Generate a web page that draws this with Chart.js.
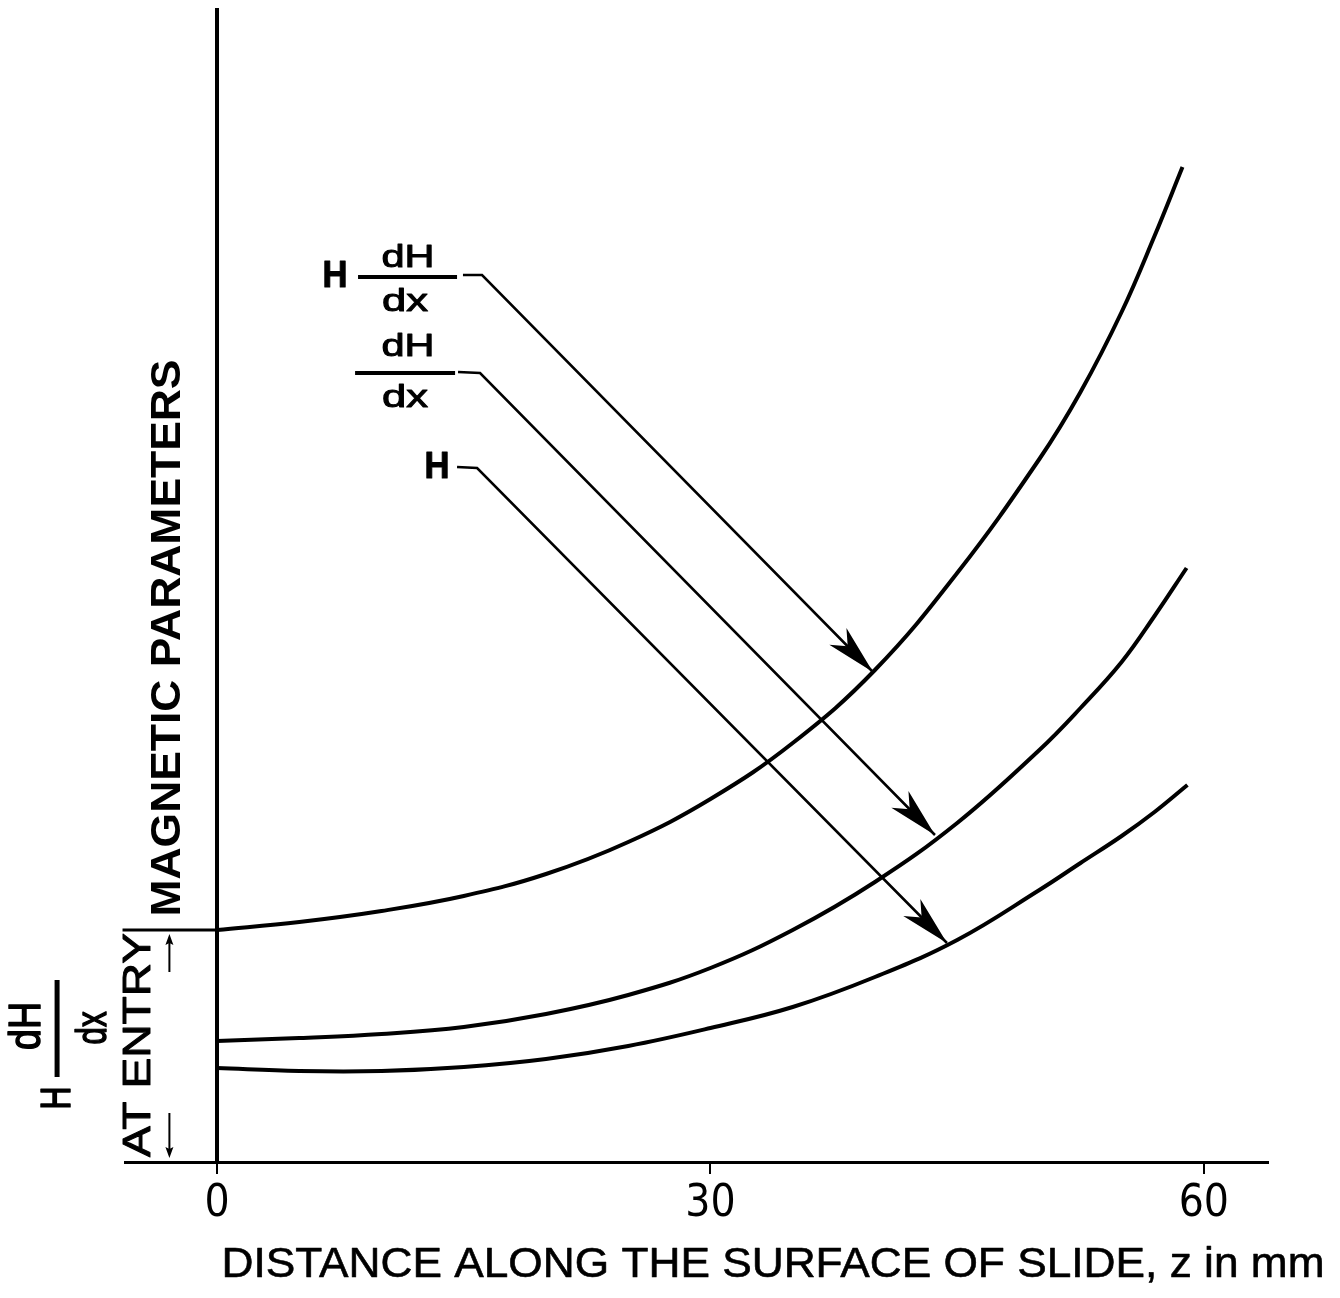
<!DOCTYPE html>
<html>
<head>
<meta charset="utf-8">
<script src="https://cdn.jsdelivr.net/npm/chart.js@4.4.1/dist/chart.umd.min.js"></script>
<style>
  html, body { margin: 0; padding: 0; background: #fff; }
  canvas { display: block; }
</style>
</head>
<body>
<canvas id="chart" width="1340" height="1298"></canvas>
<script>
const distance = [0, 5, 10, 15, 20, 25, 30, 35, 40, 45, 50, 52.5, 55, 57];

// magnetic parameters, arbitrary units (no y scale on the original)
const hDhDx = [23.2, 24.0, 25.1, 26.6, 28.8, 32.0, 36.3, 41.9, 49.2, 58.9, 70.3, 77.0, 85.0, 92.6];
const dhDx = [12.1, 12.4, 12.8, 13.5, 14.8, 16.7, 19.4, 23.2, 28.0, 33.9, 41.2, 45.4, 50.0, 54.6];
const fieldH = [9.4, 9.1, 9.1, 9.5, 10.3, 11.6, 13.4, 15.5, 18.5, 22.2, 27.2, 29.9, 32.6, 35.0];

// last point of each curve: H dH/dx, dH/dx, H
const endDistance = [58.7, 58.95, 59.0];
const endValue = [99.5, 59.4, 37.7];

const seriesNames = ["H dH/dx", "dH/dx", "H"];
const xTicks = [0, 30, 60];
const xTitle = "DISTANCE ALONG THE SURFACE OF SLIDE, z in mm";
const yTitle = "MAGNETIC PARAMETERS";
const entryLabel = "AT ENTRY";

const FONT = '"Liberation Sans", Arial, sans-serif';
const NARROW = '"Liberation Sans Narrow", "DejaVu Sans Condensed", "Liberation Sans", sans-serif';

function points(values, i) {
  const pts = distance.map((d, k) => ({ x: d, y: values[k] }));
  pts.push({ x: endDistance[i], y: endValue[i] });
  return pts;
}

// label/leader layout, in data units so it follows the scales
const notes = {
  texts: [
    { text: "H", x: 7.17, y: 88.5, w: 25, size: 36, weight: "bold" },
    { text: "dH", x: 11.61, y: 90.4, w: 53, size: 32 },
    { text: "dx", x: 11.43, y: 86.0, w: 46, size: 32 },
    { text: "dH", x: 11.61, y: 81.5, w: 53, size: 32 },
    { text: "dx", x: 11.43, y: 76.4, w: 46, size: 32 },
    { text: "H", x: 13.37, y: 69.4, w: 25, size: 36, weight: "bold" },
  ],
  bars: [
    { x1: 8.57, x2: 14.59, y: 88.5 },
    { x1: 8.39, x2: 14.47, y: 78.9 },
  ],
  leaders: [
    { from: [14.95, 88.7], corner: [16.11, 88.7], tip: [39.88, 49.0] },
    { from: [14.65, 79.0], corner: [15.99, 78.9], tip: [43.65, 32.7] },
    { from: [14.59, 69.5], corner: [15.81, 69.4], tip: [44.38, 21.9] },
  ],
};

// draws text centred on (cx, cy), squeezed/stretched to a given width;
// heavy > 0 adds an outline so thin glyphs look like the scanned print
function fitText(ctx, text, cx, cy, width, size, weight, angle, heavy) {
  ctx.save();
  ctx.translate(cx, cy);
  ctx.rotate(angle || 0);
  ctx.font = `${weight || "normal"} ${size}px ${FONT}`;
  const w = ctx.measureText(text).width;
  ctx.scale(width / w, 1);
  ctx.textAlign = "center";
  ctx.textBaseline = "middle";
  ctx.fillStyle = "#000";
  ctx.fillText(text, 0, 0);
  if (heavy) {
    ctx.strokeStyle = "#000";
    ctx.lineWidth = heavy;
    ctx.lineJoin = "round";
    ctx.strokeText(text, 0, 0);
  }
  ctx.restore();
}

function line(ctx, x1, y1, x2, y2, width) {
  ctx.beginPath();
  ctx.lineWidth = width;
  ctx.moveTo(x1, y1);
  ctx.lineTo(x2, y2);
  ctx.stroke();
}

function barbedHead(ctx, fx, fy, tx, ty, len, half, notch) {
  const d = Math.hypot(tx - fx, ty - fy);
  const ux = (tx - fx) / d;
  const uy = (ty - fy) / d;
  const bx = tx - ux * len;
  const by = ty - uy * len;
  ctx.beginPath();
  ctx.moveTo(tx, ty);
  ctx.lineTo(bx - uy * half, by + ux * half);
  ctx.lineTo(tx - ux * notch, ty - uy * notch);
  ctx.lineTo(bx + uy * half, by - ux * half);
  ctx.closePath();
  ctx.fill();
}

const whiteBackground = {
  id: "whiteBackground",
  beforeDraw(chart) {
    const { ctx, width, height } = chart;
    ctx.save();
    ctx.fillStyle = "#fff";
    ctx.fillRect(0, 0, width, height);
    ctx.restore();
  },
};

const figureNotes = {
  id: "figureNotes",
  afterDraw(chart) {
    const { ctx, scales } = chart;
    const X = (v) => scales.x.getPixelForValue(v);
    const Y = (v) => scales.y.getPixelForValue(v);
    ctx.save();
    ctx.strokeStyle = "#000";
    ctx.fillStyle = "#000";
    ctx.lineCap = "butt";

    notes.texts.forEach((t) => fitText(ctx, t.text, X(t.x), Y(t.y), t.w, t.size, t.weight, 0, 1));
    notes.bars.forEach((b) => line(ctx, X(b.x1), Y(b.y), X(b.x2), Y(b.y), 4));

    notes.leaders.forEach((l) => {
      const cx = X(l.corner[0]);
      const cy = Y(l.corner[1]);
      const tx = X(l.tip[0]);
      const ty = Y(l.tip[1]);
      ctx.beginPath();
      ctx.lineWidth = 2.5;
      ctx.moveTo(X(l.from[0]), Y(l.from[1]));
      ctx.lineTo(cx, cy);
      ctx.lineTo(tx, ty);
      ctx.stroke();
      barbedHead(ctx, cx, cy, tx, ty, 50, 12, 36);
    });

    // left margin: entry level of H dH/dx and its labels
    const entryY = Y(hDhDx[0]);
    line(ctx, X(-5.75), entryY, X(0), entryY, 3);
    fitText(ctx, yTitle, X(-2.98), Y(52.4), 557, 43, "bold", -Math.PI / 2);
    fitText(ctx, entryLabel, X(-4.74), Y(11.7), 224, 39, "normal", -Math.PI / 2, 1);

    const ax = X(-2.9);
    line(ctx, ax, Y(19.0), ax, Y(22.2), 2);
    barbedHead(ctx, ax, Y(19.0), ax, Y(22.8), 11, 4, 9);
    line(ctx, ax, Y(4.9), ax, Y(1.0), 2);
    barbedHead(ctx, ax, Y(4.9), ax, Y(0.4), 11, 4, 9);

    fitText(ctx, "H", X(-9.67), Y(6.4), 23, 42, "normal", -Math.PI / 2, 1.5);
    line(ctx, X(-9.73), Y(8.5), X(-9.73), Y(18.2), 5);
    fitText(ctx, "dH", X(-11.49), Y(13.6), 48, 44, "normal", -Math.PI / 2, 1.5);
    fitText(ctx, "dx", X(-7.48), Y(13.4), 33, 42, "normal", -Math.PI / 2, 1.5);

    // x axis title
    fitText(ctx, xTitle, 773, 1265, 1103, 42, "normal", 0, 0.6);
    ctx.restore();
  },
};

new Chart(document.getElementById("chart"), {
  type: "line",
  data: {
    datasets: [hDhDx, dhDx, fieldH].map((values, i) => ({
      label: seriesNames[i],
      data: points(values, i),
      borderColor: "#000",
      borderWidth: 4,
      pointRadius: 0,
      fill: false,
      tension: 0.4,
    })),
  },
  options: {
    responsive: false,
    animation: false,
    layout: { padding: { left: 125, right: 72, top: 10, bottom: 0 } },
    plugins: {
      legend: { display: false },
      tooltip: { enabled: false },
    },
    scales: {
      x: {
        type: "linear",
        min: -5.6,
        max: 63.9,
        afterBuildTicks: (scale) => {
          scale.ticks = xTicks.map((v) => ({ value: v }));
        },
        afterFit: (scale) => {
          scale.height = 136;
        },
        ticks: {
          color: "#000",
          padding: 4,
          maxRotation: 0,
          autoSkip: false,
          font: { family: NARROW, size: 44 },
        },
        grid: {
          display: true,
          drawOnChartArea: false,
          drawTicks: true,
          tickLength: 12,
          color: "#000",
          lineWidth: 2,
        },
        border: { display: true, color: "#000", width: 3 },
      },
      y: {
        type: "linear",
        min: 0,
        max: 115.2,
        position: { x: 0 },
        ticks: { display: false },
        grid: { display: false },
        border: { display: true, color: "#000", width: 4 },
      },
    },
  },
  plugins: [whiteBackground, figureNotes],
});
</script>
</body>
</html>
